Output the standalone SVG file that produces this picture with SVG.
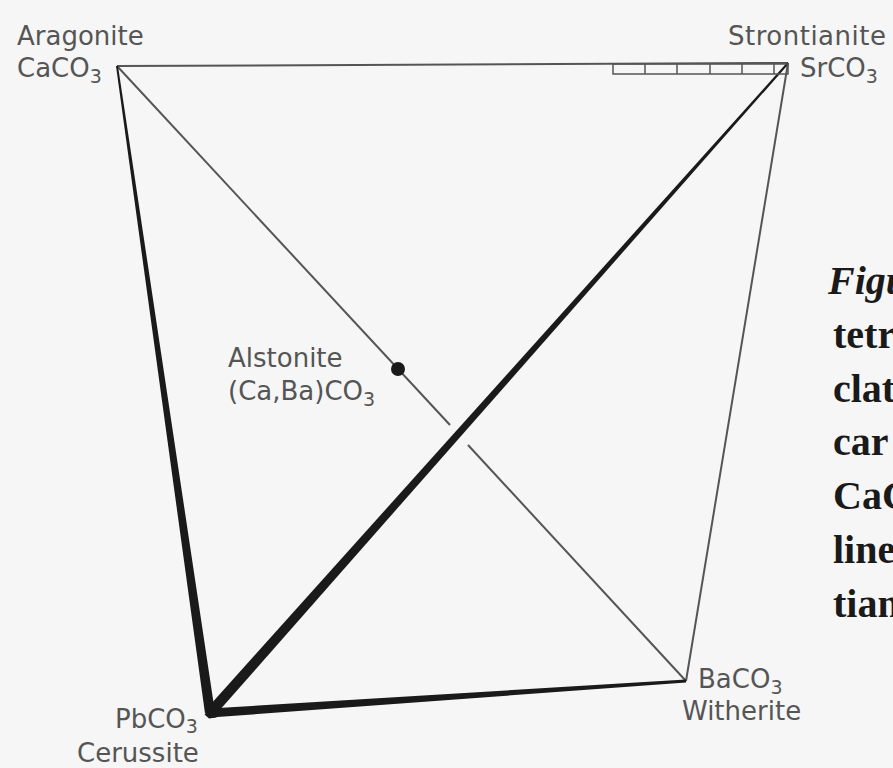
<svg xmlns="http://www.w3.org/2000/svg" width="893" height="768" viewBox="0 0 893 768">
<style>
.lbl{font-family:"DejaVu Sans","Liberation Sans",sans-serif;font-size:26px;fill:#555}
.sub{font-size:19px}
.thin{stroke:#555;stroke-width:2;fill:none}
.thick{fill:#1a1a1a}
.cap{font-family:"Liberation Serif","Times New Roman",serif;font-size:40px;font-weight:bold;fill:#1a1a1a}
</style>
<rect width="893" height="768" fill="#f6f6f6"/>
<g id="connectors">
<line class="thin" x1="117" y1="66" x2="788" y2="63"/>
<line class="thin" x1="788" y1="63" x2="686" y2="681"/>
<line class="thin" x1="117" y1="66" x2="450" y2="425"/>
<line class="thin" x1="468" y1="445" x2="686" y2="681"/>
<polygon class="thick" points="118,65.9 215,712.4 205,713.6 116,66.1"/>
<polygon class="thick" points="214,716.6 788.8,63.7 787.3,62.3 206,709.4"/>
<polygon class="thick" points="210.3,717.5 686.1,682.5 685.9,679.5 209.7,708.5"/>
<polygon class="thick" points="204.5,714.5 214,707 216.5,717.5 209,718.5"/>
<g id="strontianite-bar" class="thin" style="stroke-width:1.5">
<rect x="613" y="64" width="175" height="10"/>
<line x1="645" y1="64" x2="645" y2="74"/>
<line x1="677" y1="64" x2="677" y2="74"/>
<line x1="710" y1="64" x2="710" y2="74"/>
<line x1="742" y1="64" x2="742" y2="74"/>
<line x1="774" y1="64" x2="774" y2="74"/>
</g>
</g>
<g id="aragonite">
<text class="lbl" x="17" y="45">Aragonite</text>
<text class="lbl" x="17" y="77">CaCO<tspan class="sub" dy="6">3</tspan></text>
</g>
<g id="strontianite">
<text class="lbl" x="728" y="45" letter-spacing="0.5">Strontianite</text>
<text class="lbl" x="800" y="77">SrCO<tspan class="sub" dy="6">3</tspan></text>
</g>
<g id="alstonite">
<circle cx="398" cy="369" r="7" fill="#1a1a1a"/>
<text class="lbl" x="228" y="367">Alstonite</text>
<text class="lbl" x="228" y="400">(Ca,Ba)CO<tspan class="sub" dy="6">3</tspan></text>
</g>
<g id="cerussite">
<text class="lbl" x="115" y="728">PbCO<tspan class="sub" dy="5">3</tspan></text>
<text class="lbl" x="77" y="762">Cerussite</text>
</g>
<g id="witherite">
<text class="lbl" x="698" y="688">BaCO<tspan class="sub" dy="6">3</tspan></text>
<text class="lbl" x="682" y="720">Witherite</text>
</g>
<g id="caption">
<text class="cap" x="828" y="294" font-style="italic">Figu</text>
<text class="cap" x="833" y="348">tetr</text>
<text class="cap" x="833" y="402">clat</text>
<text class="cap" x="833" y="455">car</text>
<text class="cap" x="833" y="509">CaC</text>
<text class="cap" x="833" y="563">line</text>
<text class="cap" x="833" y="617">tian</text>
</g>
</svg>
